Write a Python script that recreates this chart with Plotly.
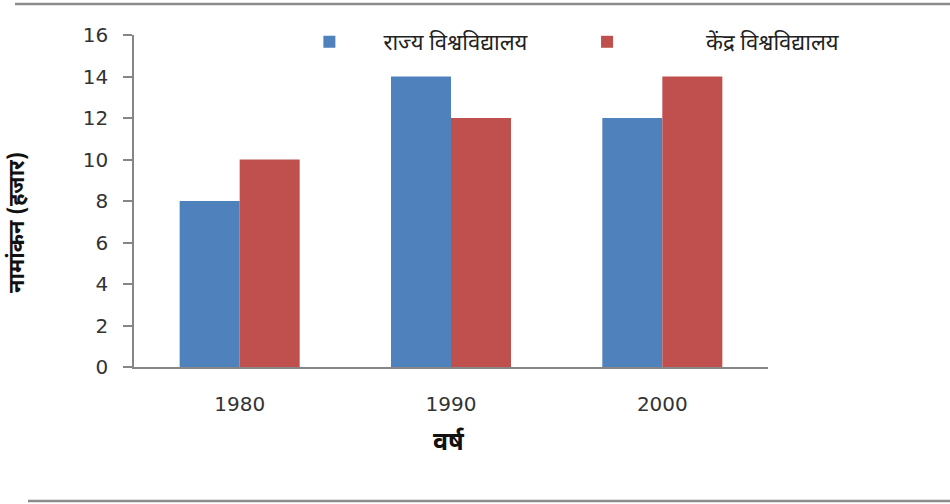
import plotly.graph_objects as go

# Enrolment (thousands) by year for state and central universities
years = ["1980", "1990", "2000"]
state_univ = [8, 14, 12]
central_univ = [10, 12, 14]
series_names = ["राज्य विश्वविद्यालय", "केंद्र विश्वविद्यालय"]
y_ticks = [0, 2, 4, 6, 8, 10, 12, 14, 16]

BLUE = "#4F81BD"
RED = "#C0504D"
AXIS = "#868686"
DEVA = "Noto Sans Devanagari, Noto Sans, Lohit Devanagari, sans-serif"
NUM = "DejaVu Sans, Verdana, sans-serif"

fig = go.Figure()
fig.add_trace(go.Bar(x=years, y=state_univ, name=series_names[0], legend="legend",
                     marker=dict(color=BLUE, line=dict(width=0))))
fig.add_trace(go.Bar(x=years, y=central_univ, name=series_names[1], legend="legend2",
                     marker=dict(color=RED, line=dict(width=0))))

legend_common = dict(
    orientation="h", xanchor="left", y=0.979, yanchor="middle",
    font=dict(family=DEVA, size=22, color="#222"),
    bgcolor="rgba(0,0,0,0)", itemclick=False,
)

fig.update_layout(
    width=950, height=504,
    margin=dict(l=134, r=182, t=35, b=137),
    paper_bgcolor="white", plot_bgcolor="white",
    barmode="group", bargap=0.432, bargroupgap=0,
    showlegend=True,
    legend=dict(x=0.223, itemwidth=98, **legend_common),
    legend2=dict(x=0.59, itemwidth=188, **legend_common),
    xaxis=dict(
        type="category", showline=True, linecolor=AXIS, linewidth=1.5,
        ticks="", showgrid=False, zeroline=False,
        tickfont=dict(family=NUM, size=20, color="#333"),
        ticklabelstandoff=18,
    ),
    yaxis=dict(
        range=[0, 16], tickvals=y_ticks, showline=True, linecolor=AXIS, linewidth=1.5,
        ticks="outside", ticklen=9, tickcolor=AXIS, tickwidth=1.5,
        showgrid=False, zeroline=False,
        tickfont=dict(family=NUM, size=20, color="#333"),
        ticklabelstandoff=11,
    ),
    annotations=[
        dict(text="<b>नामांकन (हजार)</b>", xref="paper", yref="paper",
             x=-0.183, y=0.4367, xanchor="center", yanchor="middle",
             textangle=-90, showarrow=False,
             font=dict(family=DEVA, size=22, color="#111")),
        dict(text="<b>वर्ष</b>", xref="paper", yref="paper",
             x=0.497, y=-0.229, xanchor="center", yanchor="middle",
             showarrow=False,
             font=dict(family=DEVA, size=25, color="#111")),
    ],
    shapes=[
        dict(type="line", xref="paper", yref="paper", x0=-0.1877, x1=1.29,
             y0=1.0934, y1=1.0934, line=dict(color="#8c8c8c", width=2.5)),
        dict(type="line", xref="paper", yref="paper", x0=-0.1672, x1=1.29,
             y0=-0.4036, y1=-0.4036, line=dict(color="#8c8c8c", width=2.5)),
    ],
)

fig.write_html("out.html")
